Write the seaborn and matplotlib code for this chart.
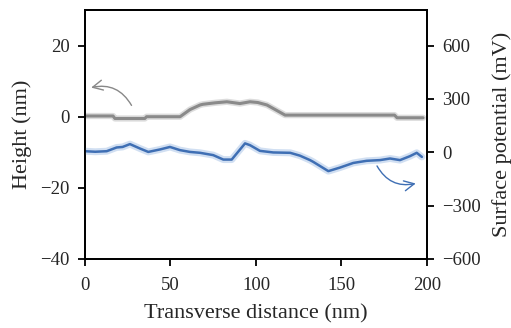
import seaborn as sns
import matplotlib.pyplot as plt
import pandas as pd

# height profile (nm), left axis
height_x = [0, 16.4, 17.5, 35, 36, 55.6, 61.4, 67.3, 69, 76, 83, 90.6, 96.5, 101, 106.4, 112, 117,
            150, 181, 182.5, 197.7]
height_y = [0.2, 0.2, -0.5, -0.5, 0, 0, 2.0, 3.3, 3.5, 3.9, 4.2, 3.7, 4.2, 4.0, 3.3, 1.8, 0.45,
            0.45, 0.45, -0.3, -0.3]

# surface potential (mV), right axis
pot_x = [0, 6, 12.7, 18.5, 22, 26.3, 32.2, 37, 43.9, 49.7, 55.6, 61.4, 67.3, 75, 80.9, 85.8,
         93.6, 96.5, 102.3, 110.1, 120, 125.7, 131.6, 133.5, 142.3, 149.1, 156.9, 164.7,
         172.5, 178.4, 184.2, 190, 194, 197]
pot_y = [6, 3, 6, 27, 30, 46, 21, 2, 16, 30, 12, 2, -3, -16, -41, -41,
         50, 40, 8, -1, -3, -19, -44, -54, -106, -86, -60, -48,
         -44, -35, -44, -22, -3, -26]

hdf = pd.DataFrame({"x": height_x, "y": height_y})
pdf = pd.DataFrame({"x": pot_x, "y": pot_y})

sns.set_style("white")
plt.rcParams['font.family'] = ['Liberation Serif', 'DejaVu Serif']

fig = plt.figure(figsize=(5.11, 3.28), dpi=100)
ax = fig.add_axes([0.1663, 0.2104, 0.6693, 0.7591])
ax2 = ax.twinx()

sns.lineplot(data=hdf, x="x", y="y", ax=ax, color="#d4d4d4", linewidth=4.5, alpha=0.8)
sns.lineplot(data=hdf, x="x", y="y", ax=ax, color="#8a8a8a", linewidth=2.2)
sns.lineplot(data=pdf, x="x", y="y", ax=ax2, color="#c6d8ef", linewidth=5, alpha=0.8)
sns.lineplot(data=pdf, x="x", y="y", ax=ax2, color="#3f6fb4", linewidth=1.8)

ax.set_xlim(0, 200)
ax.set_ylim(-40, 30)
ax2.set_ylim(-600, 800)
ax.set_xticks([0, 50, 100, 150, 200])
ax.set_yticks([-40, -20, 0, 20])
ax2.set_yticks([-600, -300, 0, 300, 600])
ax.set_yticklabels(["\u221240", "\u221220", "0", "20"])
ax2.set_yticklabels(["\u2212600", "\u2212300", "0", "300", "600"])

for a in (ax, ax2):
    a.tick_params(axis="both", labelsize=13.5, length=5, width=1.3, pad=6,
                  direction="out", color="black")
    for s in a.spines.values():
        s.set_color("black")
        s.set_linewidth(1.3)
ax.tick_params(axis="x", pad=8)
ax.tick_params(left=True, bottom=True)
ax2.tick_params(right=True)

ax.set_xlabel("Transverse distance (nm)", fontsize=16, labelpad=7)
ax.set_ylabel("Height (nm)", fontsize=16, labelpad=6)
ax2.set_ylabel("Surface potential (mV)", fontsize=16, labelpad=8)

ax.annotate("", xy=(2, 8), xytext=(28, 2.5),
            arrowprops=dict(arrowstyle="->", color="#888888", lw=1,
                            connectionstyle="arc3,rad=0.4", mutation_scale=18))
ax2.annotate("", xy=(195, -172), xytext=(170, -63),
             arrowprops=dict(arrowstyle="->", color="#3f6fb4", lw=1,
                             connectionstyle="arc3,rad=0.4", mutation_scale=18))

fig.savefig("out.png", dpi=100)
